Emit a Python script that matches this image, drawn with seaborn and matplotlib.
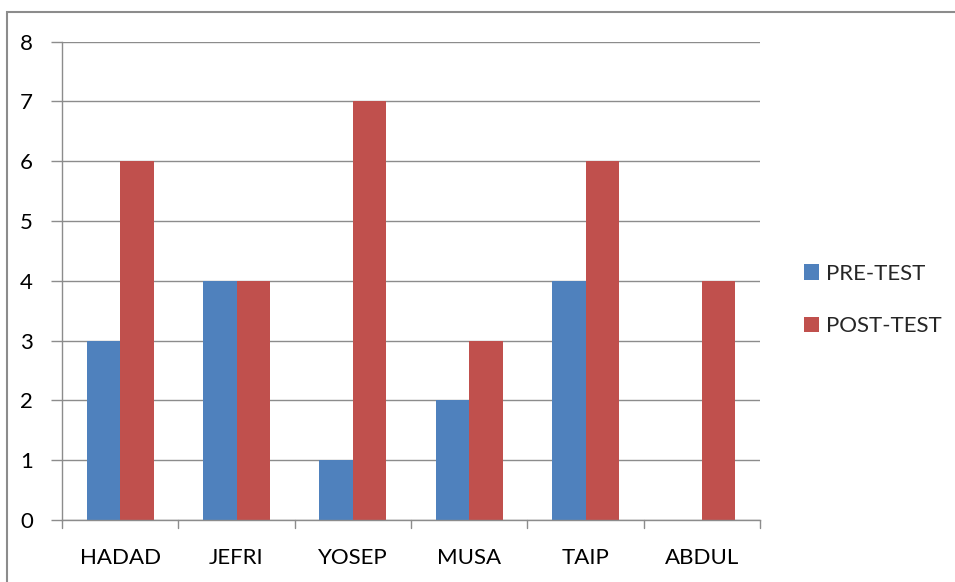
import matplotlib
matplotlib.use("Agg")
import matplotlib.pyplot as plt
import matplotlib.patches as mpatches
import seaborn as sns
import pandas as pd

# Scores per student
students = ["HADAD", "JEFRI", "YOSEP", "MUSA", "TAIP", "ABDUL"]
pre_test = [3, 4, 1, 2, 4, 0]
post_test = [6, 4, 7, 3, 6, 4]
series = ["PRE-TEST", "POST-TEST"]
y_ticks = [0, 1, 2, 3, 4, 5, 6, 7, 8]

df = pd.DataFrame({
    "student": students * 2,
    "score": pre_test + post_test,
    "test": [series[0]] * len(students) + [series[1]] * len(students),
})

sns.set_theme(style="white")
plt.rcParams["font.family"] = ["Lato", "DejaVu Sans"]

colors = {"PRE-TEST": "#4F81BD", "POST-TEST": "#C0504D"}
grid_gray = "#8C8C8C"
fs = 16

fig = plt.figure(figsize=(9.55, 5.82), dpi=100)
ax = fig.add_axes([62 / 955, 1 - 520 / 582, (760 - 62) / 955, (520 - 41.5) / 582])

sns.barplot(data=df, x="student", y="score", hue="test", palette=colors,
            order=students, hue_order=series, width=0.576, saturation=1,
            edgecolor="none", linewidth=0, legend=False, ax=ax)

ax.set_ylim(0, 8)
ax.set_xlim(-0.5, len(students) - 0.5)
ax.set_yticks(y_ticks)
ax.set_yticklabels([str(v) for v in y_ticks], fontsize=fs, color="black")
ax.tick_params(axis="y", length=8, width=1, color=grid_gray, pad=13, left=True)
ax.tick_params(axis="x", length=0, pad=20, labelsize=fs, labelcolor="black")
ax.yaxis.grid(True, color=grid_gray, linewidth=1)
ax.set_axisbelow(True)
ax.set_xlabel("")
ax.set_ylabel("")

for side in ["top", "right"]:
    ax.spines[side].set_visible(False)
for side in ["left", "bottom"]:
    ax.spines[side].set_color(grid_gray)
    ax.spines[side].set_linewidth(1)

# category separators below the baseline
for i in range(len(students) + 1):
    ax.plot([i - 0.5, i - 0.5], [0, -0.14], color=grid_gray, lw=1,
            clip_on=False, zorder=3)

handles = [mpatches.Patch(facecolor=colors[s], edgecolor="none", label=s) for s in series]
fig.legend(handles=handles, loc="center left", bbox_to_anchor=(795 / 955, 1 - 300 / 582),
           frameon=False, fontsize=fs, handlelength=0.7, handleheight=0.7,
           handletextpad=0.3, labelspacing=1.45, borderaxespad=0)

# outer chart border
fig.patches.append(mpatches.Rectangle((7 / 955, -0.05), 1.1, 1 - 12 / 582 + 0.05,
                                      transform=fig.transFigure, fill=False,
                                      edgecolor="#8C8C8C", linewidth=1.5))

fig.savefig("out.png", dpi=100, facecolor="white")
